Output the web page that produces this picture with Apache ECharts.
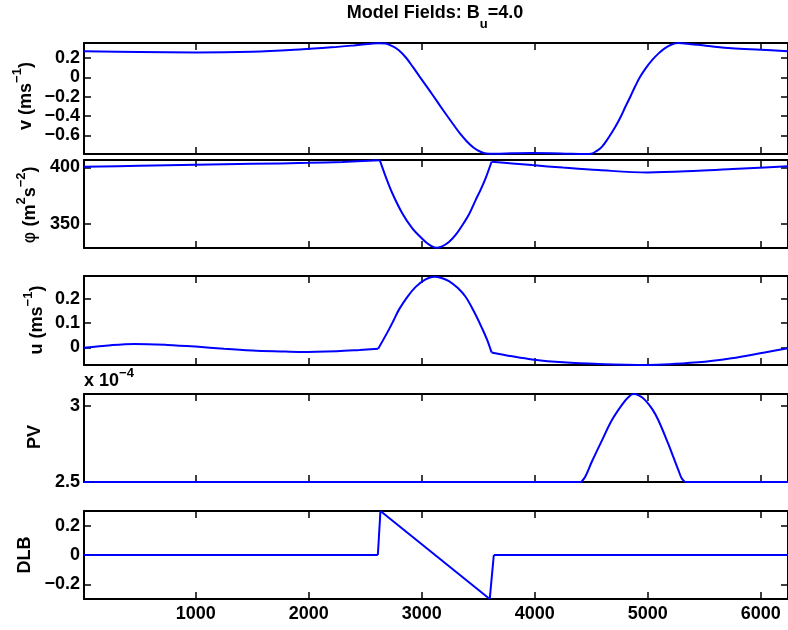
<!DOCTYPE html>
<html><head><meta charset="utf-8">
<script src="https://cdn.jsdelivr.net/npm/echarts@6/dist/echarts.min.js"></script>
<style>html,body{margin:0;padding:0;background:#fff}#c{width:788px;height:630px}</style>
</head><body><div id="c"></div>
<script>
// ---- data ----
const xTicks = [1000, 2000, 3000, 4000, 5000, 6000];

const vX = [12, 500, 1000, 1500, 1918, 2200, 2400, 2550, 2620, 2680, 2741, 2800, 2860, 2920, 2980, 3040, 3100, 3160, 3220, 3280, 3340, 3400, 3460, 3520, 3570, 3650, 3800, 3974, 4150, 4300, 4450, 4500, 4550, 4594, 4650, 4712, 4760, 4800, 4850, 4888, 4930, 4977, 5040, 5094, 5150, 5212, 5270, 5350, 5447, 5535, 5741, 6000, 6241];
const vY = [0.27, 0.262, 0.257, 0.265, 0.288, 0.31, 0.33, 0.347, 0.353, 0.350, 0.322, 0.278, 0.205, 0.110, 0.010, -0.088, -0.188, -0.290, -0.390, -0.488, -0.583, -0.663, -0.728, -0.770, -0.788, -0.790, -0.786, -0.783, -0.785, -0.790, -0.793, -0.790, -0.760, -0.720, -0.630, -0.514, -0.410, -0.310, -0.190, -0.095, 0.000, 0.085, 0.180, 0.245, 0.300, 0.340, 0.355, 0.348, 0.336, 0.324, 0.300, 0.285, 0.270];
const vKinks = [];

const phiX = [12, 500, 1000, 1500, 2000, 2300, 2630, 2682, 2741, 2829, 2917, 2980, 3035, 3080, 3124, 3180, 3241, 3300, 3359, 3420, 3476, 3520, 3565, 3618, 3800, 3976, 4250, 4565, 5000, 5447, 5750, 6035, 6241];
const phiY = [400.5, 401.4, 402.3, 403.1, 404.0, 404.8, 406.2, 391.7, 377.0, 359.4, 346.2, 339.5, 334.3, 331.0, 329.2, 330.5, 334.3, 340.5, 349.0, 359.0, 371.0, 380.0, 390.3, 405.0, 403.5, 402.0, 399.8, 397.6, 395.6, 397.0, 398.5, 400.0, 401.0];
const phiKinks = [2630, 3618];

const uX = [12, 250, 460, 750, 1000, 1250, 1500, 1750, 1918, 2250, 2450, 2615, 2700, 2750, 2800, 2875, 2947, 3030, 3109, 3175, 3241, 3320, 3388, 3460, 3535, 3580, 3618, 3800, 3976, 4250, 4565, 5000, 5447, 5741, 6035, 6241];
const uY = [-0.002, 0.009, 0.014, 0.010, 0.003, -0.006, -0.013, -0.017, -0.019, -0.016, -0.011, -0.006, 0.065, 0.110, 0.157, 0.210, 0.250, 0.280, 0.292, 0.287, 0.274, 0.245, 0.209, 0.150, 0.078, 0.030, -0.021, -0.037, -0.050, -0.062, -0.069, -0.073, -0.062, -0.045, -0.021, -0.004];
const uKinks = [2615, 3618];

// PV in units of 1e-4
const pvX = [12, 4412, 4447, 4506, 4594, 4682, 4770, 4830, 4873, 4925, 4977, 5040, 5094, 5182, 5226, 5270, 5300, 5329, 6241];
const pvY = [2.5, 2.5, 2.535, 2.635, 2.773, 2.907, 3.007, 3.06, 3.08, 3.07, 3.04, 2.98, 2.907, 2.751, 2.665, 2.58, 2.525, 2.5, 2.5];
const pvKinks = [4412, 5329];

const dlbX = [12, 2612, 2635, 3602, 3638, 6241];
const dlbY = [0, 0, 0.3, -0.3, 0, 0];
const dlbKinks = [2612, 2635, 3602, 3638];

const yTicks = [
  [-0.6, -0.4, -0.2, 0, 0.2],
  [350, 400],
  [0, 0.1, 0.2],
  [2.5, 3],
  [-0.2, 0, 0.2]
];
const yRanges = [[-0.793, 0.355], [329, 406.5], [-0.073, 0.295], [2.5, 3.08], [-0.3, 0.3]];
const xRange = [12, 6241];

// ---- layout ----
const layout = [
  {top: 43, height: 111},
  {top: 160, height: 88},
  {top: 276, height: 89},
  {top: 394, height: 88},
  {top: 511, height: 88}
];
const seriesData = [[vX, vY, vKinks], [phiX, phiY, phiKinks], [uX, uY, uKinks], [pvX, pvY, pvKinks], [dlbX, dlbY, dlbKinks]];

const FONT = "'Liberation Sans', Arial, Helvetica, sans-serif";
const fmt = v => (v < 0 ? '\u2212' + String(Math.abs(v)) : String(v));

const grid = [], xAxis = [], yAxis = [], series = [];
const axisLine = {show: true, onZero: false, lineStyle: {color: '#000', width: 2}};
const tickStyle = {color: '#000', width: 1.5};

function makeSeries(i, data, smooth) {
  return {
    type: 'line', xAxisIndex: 2 * i, yAxisIndex: 2 * i, data,
    showSymbol: false, symbol: 'none', clip: false,
    smooth: smooth ? 0.35 : false,
    lineStyle: {color: '#0000ff', width: 2}
  };
}

layout.forEach((L, i) => {
  grid.push({left: 84, width: 706, top: L.top, height: L.height, containLabel: false});
  const last = i === layout.length - 1;
  xAxis.push({
    type: 'value', gridIndex: i, min: xRange[0], max: xRange[1], position: 'bottom',
    axisLine, splitLine: {show: false},
    axisTick: {show: true, inside: true, length: 7, lineStyle: tickStyle, customValues: xTicks},
    axisLabel: {show: last, customValues: xTicks, formatter: v => String(v), color: '#000', fontSize: 18, fontWeight: 'bold', fontFamily: FONT, margin: 6}
  });
  xAxis.push({
    type: 'value', gridIndex: i, min: xRange[0], max: xRange[1], position: 'top',
    axisLine, splitLine: {show: false},
    axisTick: {show: true, inside: true, length: 7, lineStyle: tickStyle, customValues: xTicks},
    axisLabel: {show: false}
  });
  yAxis.push({
    type: 'value', gridIndex: i, min: yRanges[i][0], max: yRanges[i][1], position: 'left',
    axisLine, splitLine: {show: false},
    axisTick: {show: true, inside: true, length: 7, lineStyle: tickStyle, customValues: yTicks[i]},
    axisLabel: {show: true, customValues: yTicks[i], formatter: fmt, color: '#000', fontSize: 18, fontWeight: 'bold', fontFamily: FONT, margin: 4}
  });
  yAxis.push({
    type: 'value', gridIndex: i, min: yRanges[i][0], max: yRanges[i][1], position: 'right',
    axisLine, splitLine: {show: false},
    axisTick: {show: true, inside: true, length: 7, lineStyle: tickStyle, customValues: yTicks[i]},
    axisLabel: {show: false}
  });
  // split each curve at its kinks into smooth pieces
  const [xs, ys, kinks] = seriesData[i];
  const pts = xs.map((x, k) => [x, ys[k]]);
  let seg = [];
  pts.forEach((p, k) => {
    seg.push(p);
    if (kinks.indexOf(p[0]) >= 0 && k > 0 && k < pts.length - 1) {
      series.push(makeSeries(i, seg, i !== 4));
      seg = [p];
    }
  });
  series.push(makeSeries(i, seg, i !== 4));
});

const main = {fontSize: 18, fontWeight: 'bold', fontFamily: FONT, fill: '#000'};
const sup = (p) => ({fontSize: 13, fontWeight: 'bold', fontFamily: FONT, fill: '#000', padding: [0, 0, p, 0]});
const sub = (p) => ({fontSize: 13, fontWeight: 'bold', fontFamily: FONT, fill: '#000', padding: [p, 0, 0, 0]});
const phiStyle = {fontSize: 18, fontWeight: 'normal', fontFamily: "'DejaVu Sans', sans-serif", fill: '#000'};

function yName(x, y, text, rich) {
  return {type: 'text', x, y, rotation: Math.PI / 2,
    style: {text, rich, align: 'center', verticalAlign: 'middle', fill: '#000', font: "bold 18px " + FONT}};
}

const graphic = [
  {type: 'text', x: 435, y: 13,
    style: {text: '{a|Model Fields: B}{s|u}{a|=4.0}', rich: {a: main, s: sub(22)}, align: 'center', verticalAlign: 'middle', fill: '#000', font: "bold 18px " + FONT}},
  yName(26.5, 96, '{a|v (ms}{s|\u22121}{a|)}', {a: main, s: sup(18)}),
  yName(30.5, 205, '{p|\u03c6}{a| (m}{s|2}{a|s}{s|\u22122}{a|)}', {a: main, p: phiStyle, s: sup(18)}),
  yName(37, 320, '{a|u (ms}{s|\u22121}{a|)}', {a: main, s: sup(18)}),
  yName(35.5, 437, '{a|PV}', {a: main}),
  yName(25.5, 555, '{a|DLB}', {a: main}),
  {type: 'text', x: 84, y: 381,
    style: {text: '{a|x 10}{s|\u22124}', rich: {a: main, s: sup(16)}, align: 'left', verticalAlign: 'middle', fill: '#000', font: "bold 18px " + FONT}}
];

const chart = echarts.init(document.getElementById('c'), null, {renderer: 'canvas'});
chart.setOption({animation: false, backgroundColor: '#fff', grid, xAxis, yAxis, series, graphic});
</script>
</body></html>
